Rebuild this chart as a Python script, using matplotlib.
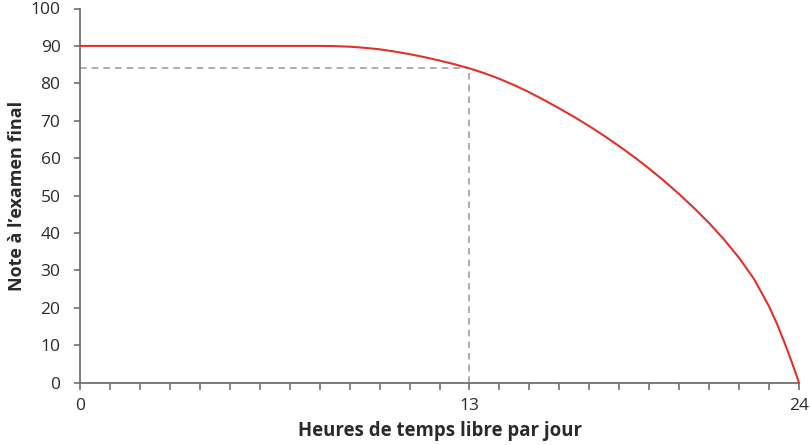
import matplotlib
matplotlib.use("Agg")
import matplotlib.pyplot as plt
from matplotlib.ticker import MultipleLocator, FixedLocator

# Data
hours = [0, 1, 2, 3, 4, 5, 6, 7, 8, 8.5, 9, 9.5, 10, 10.5, 11, 11.5, 12, 12.5, 13,
         13.5, 14, 14.5, 15, 15.5, 16, 16.5, 17, 17.5, 18, 18.5, 19, 19.5, 20,
         20.5, 21, 21.5, 22, 22.5, 23, 23.25, 23.5, 23.75, 24]
scores = [90, 90, 90, 90, 90, 90, 90, 90, 90, 89.95, 89.8, 89.5, 89.1, 88.5, 87.8, 87.0, 86.1, 85.1, 84,
          82.7, 81.2, 79.5, 77.6, 75.5, 73.3, 71.0, 68.55, 65.95, 63.2, 60.3, 57.2, 53.9, 50.4,
          46.65, 42.65, 38.25, 33.35, 27.7, 20.4, 16.0, 11.05, 5.7, 0]

marked_hour = 13
marked_score = 84

x_tick_labels = ["0", "13", "24"]
y_ticks = [0, 10, 20, 30, 40, 50, 60, 70, 80, 90, 100]

plt.rcParams['font.family'] = ['Open Sans', 'DejaVu Sans']

fig = plt.figure(figsize=(8.1, 4.45), dpi=100)
ax = fig.add_axes([80/810, 1 - 382.7/445, (799-80)/810, (382.7-8.5)/445])

axis_col = "#6f6f6f"
red = "#e2302b"
text_col = "#2a2a2a"

ax.plot(hours, scores, color=red, lw=1.5, solid_capstyle="butt", solid_joinstyle="round",
        clip_on=False, zorder=3)
ax.plot([0, marked_hour], [marked_score, marked_score], color="#a0a0a0", lw=1.2, ls=(0, (4, 3)), zorder=2)
ax.plot([marked_hour, marked_hour], [0, marked_score], color="#a0a0a0", lw=1.2, ls=(0, (4, 3)), zorder=2)

ax.set_xlim(0, 24)
ax.set_ylim(0, 100)
for s in ["top", "right"]:
    ax.spines[s].set_visible(False)
for s in ["left", "bottom"]:
    ax.spines[s].set_color(axis_col)
    ax.spines[s].set_linewidth(1.3)

ax.xaxis.set_major_locator(FixedLocator([0, 13, 24]))
ax.set_xticklabels(x_tick_labels)
ax.xaxis.set_minor_locator(MultipleLocator(1))
ax.set_yticks(y_ticks)
ax.set_yticklabels([str(v) for v in y_ticks])

ax.tick_params(axis="x", which="both", direction="out", length=5, width=1.2, color=axis_col,
               labelsize=12.5, labelcolor=text_col, pad=6)
ax.tick_params(axis="y", which="both", direction="out", length=4, width=1.2, color=axis_col,
               labelsize=12.5, labelcolor=text_col, pad=10)

ax.set_xlabel("Heures de temps libre par jour", fontsize=13.4, fontweight="bold", color=text_col, labelpad=5)
ax.set_ylabel("Note à l\u2019examen final", fontsize=13, fontweight="bold", color=text_col, labelpad=3)

fig.savefig("out.png", dpi=100)
